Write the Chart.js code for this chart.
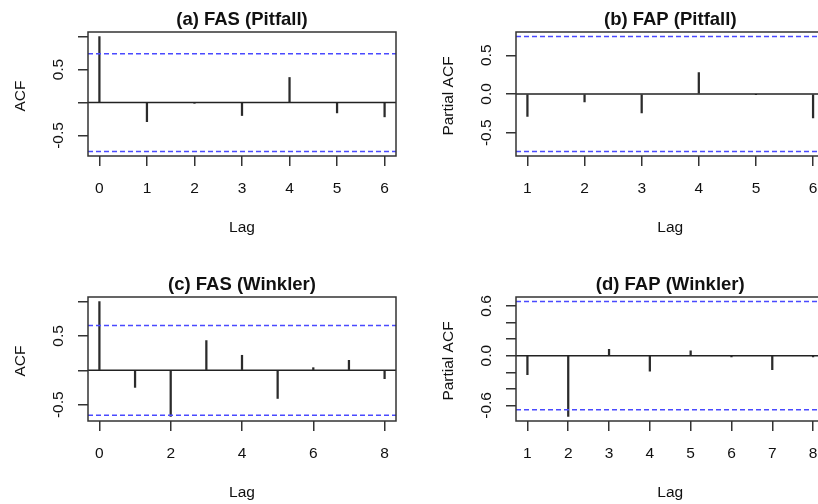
<!DOCTYPE html>
<html>
<head>
<meta charset="utf-8">
<script src="https://cdn.jsdelivr.net/npm/chart.js@4.4.1/dist/chart.umd.min.js"></script>
<style>
  html, body { margin: 0; padding: 0; background: #fff; }
  body { position: relative; width: 818px; height: 504px; overflow: hidden; }
  canvas { position: absolute; }
</style>
</head>
<body>
<canvas id="pa" width="409" height="252" style="left:0;top:0"></canvas>
<canvas id="pb" width="420" height="252" style="left:409px;top:0"></canvas>
<canvas id="pc" width="409" height="252" style="left:0;top:252px"></canvas>
<canvas id="pd" width="420" height="252" style="left:409px;top:252px"></canvas>
<script>
// (a) FAS (Pitfall) - ACF
const lagsA = [0, 1, 2, 3, 4, 5, 6];
const acfA = [1.0, -0.29, -0.004, -0.197, 0.38, -0.157, -0.217];
// (b) FAP (Pitfall) - partial ACF
const lagsB = [1, 2, 3, 4, 5, 6];
const pacfB = [-0.29, -0.103, -0.244, 0.277, -0.004, -0.308];
// (c) FAS (Winkler) - ACF
const lagsC = [0, 1, 2, 3, 4, 5, 6, 7, 8];
const acfC = [1.0, -0.248, -0.67, 0.433, 0.219, -0.409, 0.039, 0.146, -0.121];
// (d) FAP (Winkler) - partial ACF
const lagsD = [1, 2, 3, 4, 5, 6, 7, 8];
const pacfD = [-0.23, -0.733, 0.076, -0.186, 0.06, -0.015, -0.17, -0.015];

// 95% bounds (blue dashed)
const climPitfall = 0.741;
const climWinkler = 0.653;

// tick values and the labels R managed to print
const xTicksA = [0, 1, 2, 3, 4, 5, 6];
const xTicksB = [1, 2, 3, 4, 5, 6];
const xTicksC = [0, 2, 4, 6, 8];
const xTicksD = [1, 2, 3, 4, 5, 6, 7, 8];
const yTicksA = [-0.5, 0, 0.5, 1.0];
const yLabelsA = ['-0.5', '', '0.5', ''];
const yTicksB = [-0.5, 0, 0.5];
const yLabelsB = ['-0.5', '0.0', '0.5'];
const yTicksC = [-0.5, 0, 0.5, 1.0];
const yLabelsC = ['-0.5', '', '0.5', ''];
const yTicksD = [-0.6, -0.4, -0.2, 0, 0.2, 0.4, 0.6];
const yLabelsD = ['-0.6', '', '', '0.0', '', '', '0.6'];

const FONT = "'Liberation Sans', Arial, sans-serif";
const INK = '#333333';

// R-like frame: box, rotated y labels, axis titles, main title
const rFrame = {
    id: 'rFrame',
    afterDraw(chart, args, o) {
        const { ctx, chartArea: a } = chart;
        const ys = chart.scales.y;
        ctx.save();
        ctx.strokeStyle = INK;
        ctx.lineWidth = 1.5;
        ctx.strokeRect(a.left, a.top, a.right - a.left, a.bottom - a.top);

        ctx.fillStyle = '#111';
        ctx.textAlign = 'center';
        ctx.textBaseline = 'middle';
        ctx.font = '15.5px ' + FONT;
        o.yTicks.forEach((v, i) => {
            if (!o.yLabels[i]) return;
            ctx.save();
            ctx.translate(a.left - 29, ys.getPixelForValue(v));
            ctx.rotate(-Math.PI / 2);
            ctx.fillText(o.yLabels[i], 0, 0);
            ctx.restore();
        });
        ctx.save();
        ctx.translate(a.left - 67, (a.top + a.bottom) / 2 + 2);
        ctx.rotate(-Math.PI / 2);
        ctx.fillText(o.ylab, 0, 0);
        ctx.restore();
        ctx.fillText('Lag', (a.left + a.right) / 2, a.bottom + 72);

        ctx.font = 'bold 18.5px ' + FONT;
        ctx.textBaseline = 'alphabetic';
        ctx.fillText(o.title, (a.left + a.right) / 2, a.top - 7);
        ctx.restore();
    }
};

function pad4(lo, hi) {
    const d = (hi - lo) * 0.04;
    return [lo - d, hi + d];
}

function acfPanel(id, cfg) {
    const [xMin, xMax] = pad4(Math.min(...cfg.lags), Math.max(...cfg.lags));
    const [yMin, yMax] = pad4(Math.min(-cfg.clim, ...cfg.values), Math.max(cfg.clim, ...cfg.values));
    const edge = [xMin, xMax];

    new Chart(document.getElementById(id), {
        type: 'bar',
        data: {
            datasets: [
                {
                    type: 'line',
                    data: edge.map(x => ({ x, y: 0 })),
                    borderColor: '#222', borderWidth: 1.5, pointRadius: 0
                },
                {
                    type: 'line',
                    data: edge.map(x => ({ x, y: cfg.clim })),
                    borderColor: '#4a4aff', borderWidth: 1.5, borderDash: [5, 3], pointRadius: 0
                },
                {
                    type: 'line',
                    data: edge.map(x => ({ x, y: -cfg.clim })),
                    borderColor: '#4a4aff', borderWidth: 1.5, borderDash: [5, 3], pointRadius: 0
                },
                {
                    data: cfg.lags.map((x, i) => ({ x, y: cfg.values[i] })),
                    backgroundColor: '#2b2b2b',
                    barThickness: 1.6
                }
            ]
        },
        options: {
            responsive: false,
            animation: false,
            events: [],
            layout: { padding: { top: cfg.top, right: cfg.right, left: 0, bottom: 0 } },
            plugins: {
                legend: { display: false },
                tooltip: { enabled: false },
                rFrame: { title: cfg.title, ylab: cfg.ylab, yTicks: cfg.yTicks, yLabels: cfg.yLabels }
            },
            scales: {
                x: {
                    type: 'linear', min: xMin, max: xMax, offset: false,
                    afterBuildTicks: s => { s.ticks = cfg.xTicks.map(v => ({ value: v })); },
                    afterFit: s => { s.height = cfg.xh; s.paddingLeft = 0; s.paddingRight = 0; },
                    grid: { offset: false, drawOnChartArea: false, tickLength: 10, color: INK, lineWidth: 1.5 },
                    border: { display: false },
                    ticks: { autoSkip: false, maxRotation: 0, padding: 13, color: '#111',
                             font: { size: 15.5, family: FONT }, callback: v => String(v) }
                },
                y: {
                    type: 'linear', min: yMin, max: yMax,
                    afterBuildTicks: s => { s.ticks = cfg.yTicks.map(v => ({ value: v })); },
                    afterFit: s => { s.width = cfg.yw; s.paddingTop = 0; s.paddingBottom = 0; },
                    grid: { drawOnChartArea: false, tickLength: 10, color: INK, lineWidth: 1.5 },
                    border: { display: false },
                    ticks: { display: false }
                }
            }
        },
        plugins: [rFrame]
    });
}

acfPanel('pa', { lags: lagsA, values: acfA, clim: climPitfall, xTicks: xTicksA, yTicks: yTicksA, yLabels: yLabelsA,
    title: '(a) FAS (Pitfall)', ylab: 'ACF', top: 32, right: 13, yw: 88, xh: 96 });
acfPanel('pb', { lags: lagsB, values: pacfB, clim: climPitfall, xTicks: xTicksB, yTicks: yTicksB, yLabels: yLabelsB,
    title: '(b) FAP (Pitfall)', ylab: 'Partial ACF', top: 32, right: 4.5, yw: 107, xh: 96 });
acfPanel('pc', { lags: lagsC, values: acfC, clim: climWinkler, xTicks: xTicksC, yTicks: yTicksC, yLabels: yLabelsC,
    title: '(c) FAS (Winkler)', ylab: 'ACF', top: 45, right: 13, yw: 88, xh: 83 });
acfPanel('pd', { lags: lagsD, values: pacfD, clim: climWinkler, xTicks: xTicksD, yTicks: yTicksD, yLabels: yLabelsD,
    title: '(d) FAP (Winkler)', ylab: 'Partial ACF', top: 45, right: 4.5, yw: 107, xh: 83 });
</script>
</body>
</html>
